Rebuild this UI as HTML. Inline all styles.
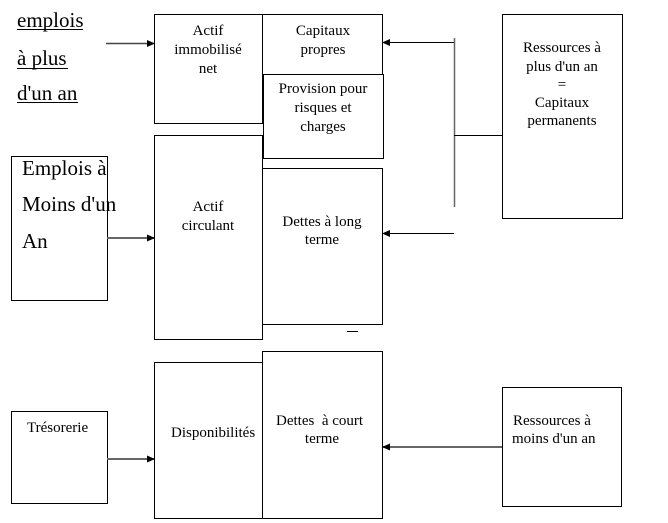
<!DOCTYPE html>
<html><head><meta charset="utf-8"><style>
html,body{margin:0;padding:0;background:#fff;}
svg{display:block;}
text{font-family:"Liberation Serif","Times New Roman",serif;fill:#000;}
</style></head><body>
<svg width="668" height="523" viewBox="0 0 668 523" xmlns="http://www.w3.org/2000/svg">
<defs>
<marker id="ah" markerWidth="8" markerHeight="8" refX="7" refY="4" orient="auto" markerUnits="userSpaceOnUse">
<path d="M0,0.5 L8,4 L0,7.5 Z" fill="#000"/>
</marker>
</defs>
<g fill="none" stroke="#000" stroke-width="1">
<rect x="154.5" y="14.5" width="108" height="109"/>
<rect x="262.5" y="14.5" width="120" height="60"/>
<rect x="263.5" y="74.5" width="120" height="84"/>
<rect x="154.5" y="135.5" width="108" height="204"/>
<rect x="262.5" y="168.5" width="120" height="156"/>
<rect x="11.5" y="156.5" width="96" height="144"/>
<rect x="502.5" y="14.5" width="120" height="204"/>
<rect x="154.5" y="362.5" width="108" height="156"/>
<rect x="262.5" y="351.5" width="120" height="167"/>
<rect x="11.5" y="411.5" width="96" height="92"/>
<rect x="502.5" y="387.5" width="119" height="119"/>
</g>
<g fill="none">
<line x1="106" y1="43.5" x2="154" y2="43.5" stroke="#444" stroke-width="1.5" marker-end="url(#ah)"/>
<line x1="454" y1="42.5" x2="383" y2="42.5" stroke="#000" stroke-width="1" marker-end="url(#ah)"/>
<line x1="454.5" y1="38" x2="454.5" y2="207" stroke="#666" stroke-width="1.5"/>
<line x1="454" y1="135.5" x2="502" y2="135.5" stroke="#000" stroke-width="1"/>
<line x1="454" y1="233.5" x2="383" y2="233.5" stroke="#000" stroke-width="1" marker-end="url(#ah)"/>
<line x1="107" y1="238" x2="154" y2="238" stroke="#666" stroke-width="2" marker-end="url(#ah)"/>
<line x1="107" y1="459" x2="154" y2="459" stroke="#666" stroke-width="2" marker-end="url(#ah)"/>
<line x1="502" y1="447" x2="383" y2="447" stroke="#666" stroke-width="2" marker-end="url(#ah)"/>
<line x1="347" y1="331.5" x2="358" y2="331.5" stroke="#000" stroke-width="1"/>
</g>
<g font-family="Liberation Serif, serif" font-size="21">
<text x="17" y="27">emplois</text>
<text x="17" y="65">à plus</text>
<text x="17" y="100">d'un an</text>
<text x="22" y="175">Emplois à</text>
<text x="22" y="211">Moins d'un</text>
<text x="22" y="248">An</text>
</g>
<g stroke="#000" stroke-width="1">
<line x1="17" y1="29.5" x2="83" y2="29.5"/>
<line x1="17" y1="68.5" x2="68" y2="68.5"/>
<line x1="17" y1="102.5" x2="78" y2="102.5"/>
</g>
<g font-family="Liberation Serif, serif" font-size="15" text-anchor="middle">
<text x="208" y="35">Actif</text>
<text x="208" y="54">immobilisé</text>
<text x="208" y="73">net</text>
<text x="323" y="35">Capitaux</text>
<text x="323" y="54">propres</text>
<text x="323" y="93">Provision pour</text>
<text x="323" y="112">risques et</text>
<text x="323" y="131">charges</text>
<text x="208" y="211">Actif</text>
<text x="208" y="230">circulant</text>
<text x="322" y="226">Dettes à long</text>
<text x="322" y="244">terme</text>
<text x="562" y="52">Ressources à</text>
<text x="562" y="71">plus d'un an</text>
<text x="562" y="89">=</text>
<text x="562" y="107">Capitaux</text>
<text x="562" y="125">permanents</text>
<text x="322" y="443">terme</text>
</g>
<g font-family="Liberation Serif, serif" font-size="15">
<text x="27" y="432">Trésorerie</text>
<text x="171" y="437">Disponibilités</text>
<text x="276" y="425" xml:space="preserve">Dettes  à court</text>
<text x="513" y="425">Ressources à</text>
<text x="512" y="443">moins d'un an</text>
</g>
</svg>
</body></html>
